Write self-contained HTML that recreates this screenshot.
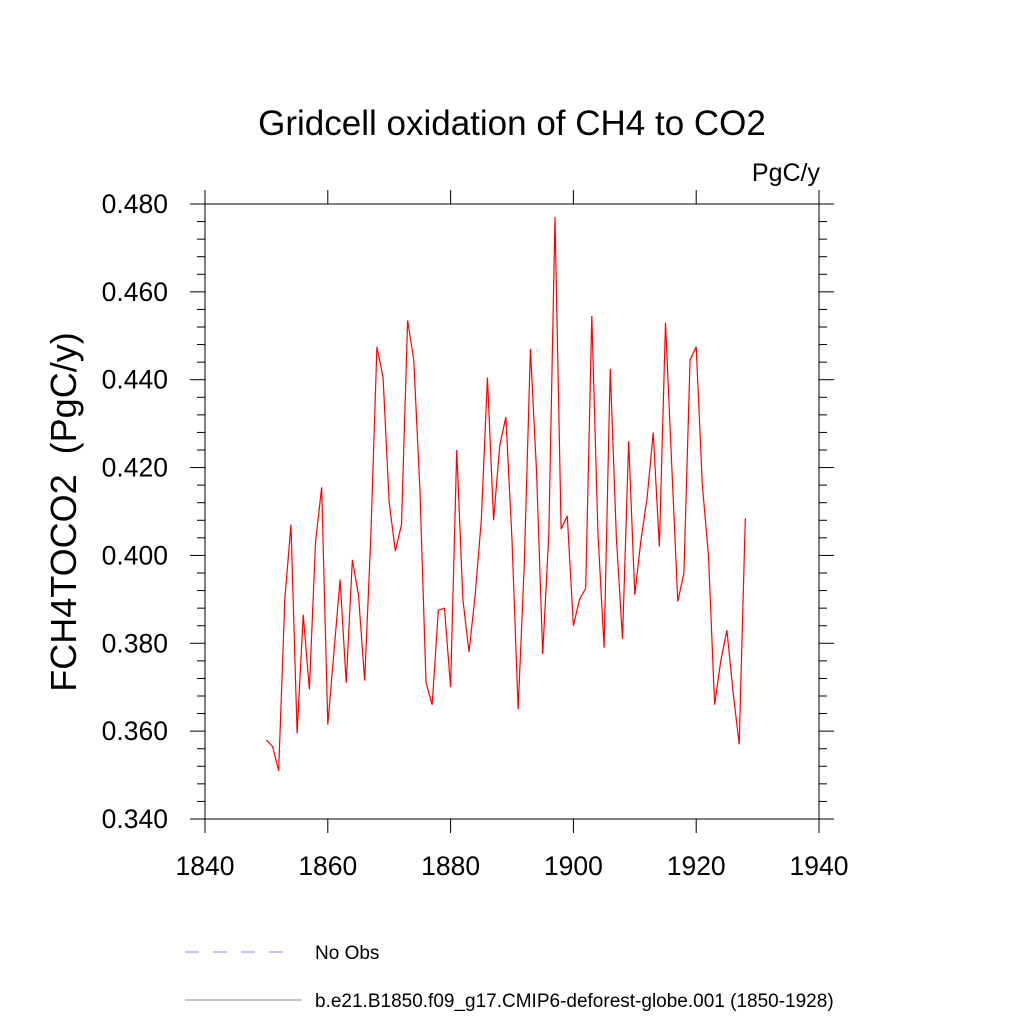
<!DOCTYPE html>
<html><head><meta charset="utf-8"><style>body{margin:0;background:#fff}svg{display:block}text{font-family:"Liberation Sans",sans-serif;fill:#000;white-space:pre}</style></head>
<body>
<svg width="1024" height="1024">
<text x="512" y="135" font-size="35" text-anchor="middle">Gridcell oxidation of CH4 to CO2</text>
<text x="820" y="181" font-size="25" text-anchor="end">PgC/y</text>
<text transform="translate(76,512) rotate(-90)" font-size="36" text-anchor="middle" xml:space="preserve">FCH4TOCO2  (PgC/y)</text>
<g id="axes"></g>
<polyline id="series" fill="none" stroke="#f00" stroke-width="1.2"/>
<line x1="185" y1="952" x2="292" y2="952" stroke="#88f" stroke-dasharray="14,14"/>
<text x="315" y="959" font-size="19">No Obs</text>
<line x1="185" y1="1000" x2="302" y2="1000" stroke="#888"/>
<text x="315" y="1007" font-size="19">b.e21.B1850.f09_g17.CMIP6-deforest-globe.001 (1850-1928)</text>
</svg>
<script>
const startYear = 1850;
const values = [0.358,0.3565,0.351,0.390,0.407,0.3595,0.3865,0.3695,0.403,0.4155,
0.3615,0.378,0.3945,0.371,0.399,0.391,0.3715,0.404,0.4475,0.4405,
0.412,0.401,0.407,0.4535,0.4445,0.415,0.371,0.366,0.3875,0.388,
0.370,0.424,0.390,0.378,0.391,0.408,0.4405,0.408,0.425,0.4315,
0.4035,0.365,0.398,0.447,0.419,0.3775,0.405,0.477,0.406,0.409,
0.384,0.390,0.3925,0.4545,0.405,0.379,0.4425,0.404,0.381,0.426,
0.391,0.4035,0.413,0.428,0.402,0.453,0.421,0.3895,0.396,0.4445,
0.4475,0.416,0.400,0.366,0.376,0.383,0.369,0.357,0.4085];
const xTicks = [1840,1860,1880,1900,1920,1940];
const yTicks = [0.340,0.360,0.380,0.400,0.420,0.440,0.460,0.480];
const L=205,R=819,T=204,B=819;
const x = v => L + (v-1840)/(1940-1840)*(R-L);
const y = v => B - (v-0.34)/(0.48-0.34)*(B-T);
const NS="http://www.w3.org/2000/svg";
const ax=document.getElementById('axes');
function ln(x1,y1,x2,y2,name){const e=document.createElementNS(NS,'line');
e.setAttribute('x1',x1);e.setAttribute('y1',y1);e.setAttribute('x2',x2);e.setAttribute('y2',y2);
e.setAttribute('stroke','#000');e.setAttribute('stroke-width','1');


ax.appendChild(e);}
function tx(xx,yy,s,anchor,name){const e=document.createElementNS(NS,'text');
e.setAttribute('x',xx);e.setAttribute('y',yy);e.setAttribute('font-size','26.5');e.setAttribute('text-anchor',anchor);e.textContent=s;


ax.appendChild(e);}
const fr=document.createElementNS(NS,'rect');
fr.setAttribute('x',L);fr.setAttribute('y',T);fr.setAttribute('width',R-L);fr.setAttribute('height',B-T);
fr.setAttribute('fill','none');fr.setAttribute('stroke','#000');


ax.appendChild(fr);
xTicks.forEach(t=>{const px=x(t);ln(px,B,px,B+14,'x-tick');ln(px,T,px,T-14,'x-tick-top');tx(px,875,String(t),'middle','x-tick-label');});
for(let v=0.34;v<=0.4801;v+=0.004){const py=y(v);const major=Math.abs((v-0.34)/0.02-Math.round((v-0.34)/0.02))<1e-6;
const len=major?15:8;ln(L-len,py,L,py,'y-tick');ln(R,py,R+len,py,'y-tick-right');}
yTicks.forEach(t=>{tx(168,y(t)+9,t.toFixed(3),'end','y-tick-label');});
document.getElementById('series').setAttribute('points',values.map((v,i)=>x(startYear+i)+','+y(v)).join(' '));
</script>
</body></html>
